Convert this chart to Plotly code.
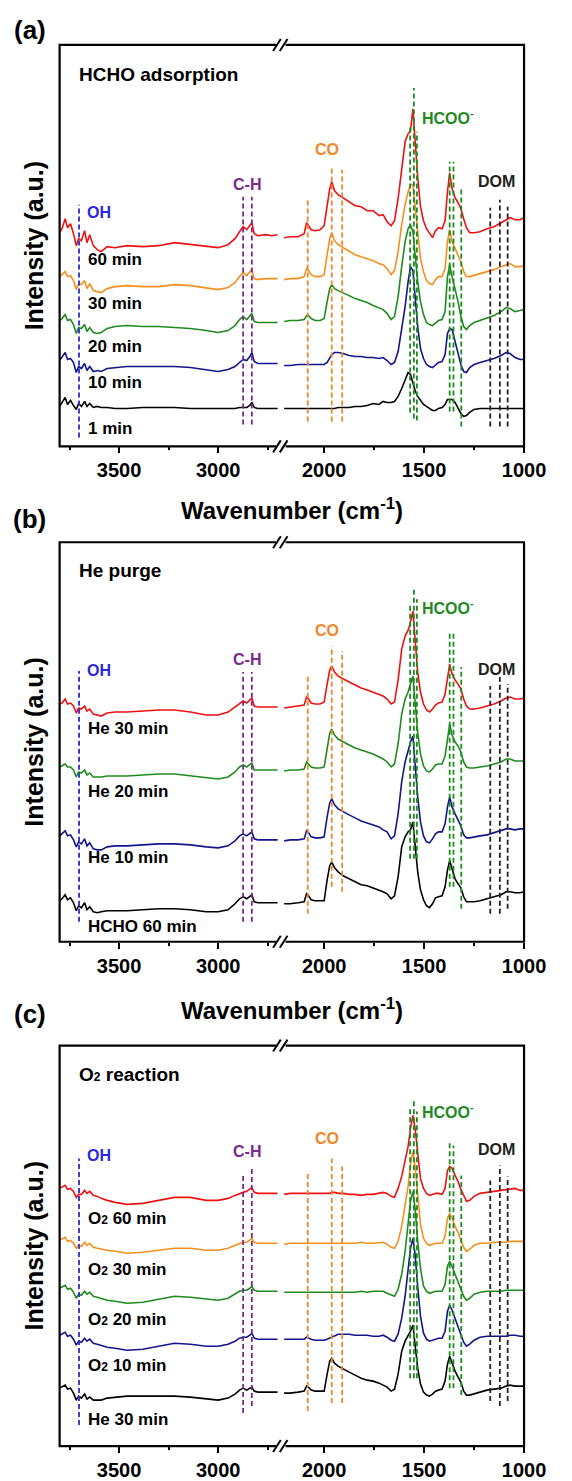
import plotly.graph_objects as go

W, H = 572, 1481

# ---------------- data (intensity in arbitrary units, stacked) ----------------
WN_LEFT = [3800, 3788, 3772, 3760, 3745, 3730, 3716, 3704, 3690, 3674, 3662, 3648, 3630, 3610, 3590, 3560,
           3520, 3460, 3380, 3300, 3220, 3140, 3060, 3000, 2950, 2915, 2892, 2874, 2856, 2840, 2830, 2818,
           2800, 2760, 2730, 2700]
WN_RIGHT = [2200, 2170, 2130, 2100, 2088, 2078, 2065, 2045, 2020, 2000,
            1985, 1972, 1962, 1948, 1930, 1905, 1875, 1845, 1815, 1785,
            1755, 1725, 1705, 1685, 1665, 1648, 1630, 1612, 1595, 1580,
            1568, 1556, 1545, 1532, 1518, 1503, 1488, 1473, 1458, 1443,
            1428, 1410, 1395, 1383, 1372, 1360, 1345, 1330, 1316, 1302,
            1288, 1272, 1250, 1220, 1185, 1150, 1115, 1090, 1070, 1045,
            1020, 1000]

# panel (a) HCHO adsorption
A_LABELS = ["1 min", "10 min", "20 min", "30 min", "60 min"]
A_1_L = [40, 44, 49, 42, 46, 41, 37, 43, 40, 45, 40, 43, 39, 40, 39, 39, 38, 38, 39, 39, 39, 38, 38, 38, 38, 38, 39, 39, 39, 41, 44, 39, 38, 38, 38, 38]
A_10_L = [86, 89, 94, 87, 88, 84, 74, 80, 78, 83, 76, 80, 75, 76, 75, 78, 79, 80, 80, 80, 80, 79, 77, 75, 77, 80, 84, 87, 86, 90, 94, 85, 83, 83, 83, 83]
A_20_L = [126, 128, 132, 126, 127, 122, 113, 119, 118, 122, 115, 119, 114, 113, 114, 118, 120, 121, 120, 120, 119, 118, 116, 114, 116, 121, 127, 130, 127, 131, 133, 125, 124, 124, 124, 124]
A_30_L = [170, 172, 175, 170, 171, 166, 157, 163, 162, 166, 158, 163, 156, 155, 154, 158, 160, 161, 160, 160, 162, 161, 159, 157, 159, 164, 170, 174, 171, 175, 177, 168, 167, 168, 168, 168]
A_60_L = [214, 218, 228, 219, 223, 213, 201, 208, 206, 216, 204, 212, 201, 197, 195, 200, 199, 201, 200, 201, 204, 202, 200, 199, 202, 208, 215, 220, 217, 222, 224, 213, 211, 212, 211, 212]
A_1_R = [38, 38, 38, 38, 38, 38, 38, 38, 38, 38,
         38, 38, 38, 38, 39, 39, 39, 40, 40, 41,
         43, 42, 45, 44, 44, 45, 50, 58, 67, 74,
         72, 64, 56, 50, 46, 42, 40, 38, 36, 36,
         38, 39, 42, 47, 47, 47, 44, 39, 33, 30,
         31, 34, 37, 38, 38, 38, 38, 38, 38, 38,
         38, 38]
A_10_R = [81, 81, 82, 82, 82, 82, 82, 82, 82, 82,
          84, 88, 92, 94, 94, 93, 91, 90, 90, 89,
          89, 88, 89, 86, 82, 84, 95, 118, 140, 165,
          180, 176, 150, 120, 98, 88, 82, 80, 79, 82,
          84, 85, 92, 113, 118, 117, 105, 92, 82, 75,
          74, 79, 82, 84, 86, 88, 91, 94, 93, 89,
          87, 87]
A_20_R = [125, 126, 126, 127, 131, 131, 128, 126, 126, 128,
          145, 158, 162, 158, 156, 154, 151, 148, 146, 144,
          141, 139, 137, 133, 127, 130, 150, 180, 205, 218,
          222, 215, 190, 165, 145, 132, 124, 122, 121, 124,
          126, 127, 135, 170, 182, 170, 158, 145, 130, 120,
          117, 121, 124, 126, 128, 131, 135, 139, 138, 135,
          136, 137]
A_30_R = [167, 168, 168, 170, 178, 176, 172, 170, 170, 172,
          192, 208, 214, 206, 202, 199, 196, 192, 190, 188,
          186, 183, 182, 178, 172, 176, 195, 222, 242, 255,
          262, 262, 240, 215, 188, 175, 166, 163, 162, 167,
          170, 170, 178, 205, 217, 205, 198, 192, 185, 175,
          170, 170, 171, 173, 175, 177, 180, 182, 183, 180,
          180, 181]
A_60_R = [209, 210, 210, 213, 224, 221, 217, 216, 217, 221,
          240, 258, 265, 256, 252, 249, 245, 241, 240, 236,
          236, 231, 232, 225, 221, 226, 248, 280, 305, 313,
          316, 338, 305, 270, 240, 226, 218, 214, 209, 216,
          219, 218, 226, 255, 274, 258, 249, 244, 238, 228,
          219, 214, 214, 215, 218, 220, 224, 227, 229, 227,
          227, 229]

# panel (b) He purge
B_LABELS = ["HCHO 60 min", "He 10 min", "He 20 min", "He 30 min"]
B_H60_L = [41, 43, 47, 42, 44, 39, 31, 36, 34, 39, 32, 35, 30, 29, 30, 31, 31, 31, 32, 33, 33, 32, 30, 30, 32, 38, 43, 45, 43, 46, 47, 40, 39, 39, 39, 39]
B_10_L = [106, 108, 111, 106, 107, 102, 95, 100, 98, 103, 96, 99, 93, 92, 92, 95, 96, 96, 97, 98, 98, 97, 95, 94, 96, 101, 106, 108, 106, 109, 110, 103, 102, 102, 102, 102]
B_20_L = [175, 176, 178, 175, 175, 172, 165, 170, 169, 172, 167, 169, 165, 165, 165, 166, 166, 166, 167, 168, 168, 166, 164, 163, 165, 170, 175, 177, 175, 177, 179, 172, 172, 172, 172, 172]
B_30_L = [238, 239, 243, 238, 239, 236, 229, 234, 233, 236, 231, 233, 228, 227, 226, 229, 230, 230, 231, 232, 232, 230, 227, 227, 230, 235, 239, 241, 239, 242, 244, 236, 235, 235, 235, 235]
B_H60_R = [38, 38, 39, 40, 48, 46, 42, 41, 41, 41,
           62, 76, 80, 74, 70, 66, 63, 60, 57, 56,
           54, 52, 50, 48, 43, 46, 65, 95, 105, 110,
           112, 120, 95, 70, 52, 42, 36, 34, 38, 44,
           45, 46, 55, 72, 81, 72, 63, 58, 54, 45,
           40, 40, 40, 41, 43, 45, 47, 50, 50, 49,
           49, 50]
B_10_R = [101, 102, 102, 103, 111, 109, 105, 104, 104, 105,
          125, 139, 143, 137, 133, 130, 127, 124, 121, 119,
          117, 115, 112, 110, 103, 106, 128, 160, 180, 192,
          200, 206, 175, 145, 120, 106, 100, 99, 103, 108,
          110, 110, 118, 135, 145, 135, 128, 122, 116, 107,
          104, 104, 105, 106, 107, 109, 111, 113, 113, 112,
          113, 113]
B_20_R = [171, 172, 172, 173, 180, 178, 175, 174, 174, 175,
          195, 209, 213, 207, 203, 200, 197, 194, 192, 190,
          188, 185, 183, 180, 175, 178, 198, 228, 243, 250,
          258, 266, 240, 210, 188, 176, 171, 170, 173, 177,
          178, 178, 186, 205, 218, 207, 200, 196, 190, 180,
          175, 174, 174, 175, 176, 178, 180, 183, 183, 181,
          181, 181]
B_30_R = [234, 235, 236, 237, 245, 243, 239, 238, 238, 240,
          258, 272, 276, 270, 266, 263, 260, 257, 254, 252,
          250, 248, 246, 243, 238, 240, 262, 293, 306, 312,
          320, 331, 300, 270, 250, 238, 232, 230, 233, 237,
          239, 240, 248, 265, 278, 268, 262, 258, 253, 243,
          236, 233, 233, 234, 236, 238, 241, 244, 245, 243,
          243, 244]

# panel (c) O2 reaction
C_LABELS = ["He 30 min", "O2 10 min", "O2 20 min", "O2 30 min", "O2 60 min"]
C_He30_L = [58, 59, 61, 57, 58, 53, 46, 50, 48, 52, 47, 49, 46, 46, 46, 48, 49, 50, 50, 50, 50, 49, 47, 46, 48, 52, 56, 58, 56, 58, 59, 55, 54, 54, 54, 54]
C_10_L = [111, 112, 114, 110, 111, 107, 101, 105, 104, 108, 105, 107, 103, 102, 101, 99, 98, 96, 97, 100, 103, 102, 100, 100, 102, 105, 108, 109, 109, 111, 113, 108, 107, 107, 107, 107]
C_20_L = [158, 159, 161, 157, 158, 154, 148, 152, 151, 155, 152, 154, 150, 149, 148, 146, 145, 143, 144, 147, 150, 149, 147, 146, 148, 152, 155, 156, 156, 158, 160, 156, 155, 155, 155, 155]
C_30_L = [206, 207, 209, 205, 206, 203, 198, 201, 200, 204, 201, 203, 199, 198, 197, 196, 195, 193, 194, 196, 198, 198, 196, 196, 198, 201, 203, 204, 204, 206, 208, 204, 203, 203, 203, 203]
C_60_L = [258, 259, 261, 257, 258, 255, 249, 252, 252, 256, 253, 255, 251, 250, 248, 246, 244, 242, 243, 246, 249, 249, 246, 246, 248, 251, 253, 254, 255, 257, 259, 254, 253, 253, 253, 253]
C_He30_R = [53, 53, 54, 55, 60, 59, 56, 55, 55, 55,
            72, 85, 88, 83, 80, 77, 74, 71, 68, 66,
            65, 63, 61, 59, 55, 57, 72, 95, 105, 110,
            115, 121, 100, 78, 62, 54, 51, 50, 52, 55,
            56, 57, 65, 82, 90, 83, 75, 69, 64, 55,
            51, 51, 52, 54, 56, 57, 58, 60, 61, 60,
            60, 60]
C_10_R = [107, 107, 107, 107, 109, 108, 107, 106, 106, 106,
          107, 108, 109, 110, 112, 112, 112, 111, 111, 111,
          110, 110, 111, 109, 106, 105, 112, 128, 150, 175,
          198, 208, 192, 160, 130, 113, 107, 105, 106, 107,
          108, 108, 115, 135, 141, 136, 128, 120, 111, 104,
          100, 102, 106, 109, 110, 110, 110, 110, 111, 111,
          110, 110]
C_20_R = [154, 154, 154, 154, 154, 154, 154, 154, 154, 154,
          154, 154, 154, 154, 154, 154, 154, 154, 155, 154,
          155, 155, 155, 153, 151, 150, 157, 172, 195, 220,
          245, 255, 238, 205, 178, 160, 155, 153, 154, 155,
          155, 155, 162, 180, 185, 180, 172, 165, 157, 150,
          146, 148, 152, 154, 155, 155, 155, 156, 156, 156,
          156, 156]
C_30_R = [202, 203, 203, 203, 203, 203, 203, 203, 203, 203,
          203, 203, 203, 203, 203, 203, 203, 203, 204, 203,
          203, 204, 204, 202, 199, 198, 205, 220, 240, 260,
          282, 295, 280, 250, 222, 208, 203, 201, 202, 203,
          203, 203, 210, 228, 233, 228, 220, 214, 206, 199,
          195, 197, 201, 203, 203, 204, 204, 204, 205, 205,
          205, 205]
C_60_R = [252, 253, 253, 253, 253, 253, 253, 253, 253, 253,
          253, 253, 254, 254, 253, 253, 252, 252, 251, 252,
          252, 253, 254, 253, 250, 249, 258, 270, 285, 300,
          318, 331, 318, 290, 268, 258, 253, 251, 252, 253,
          253, 252, 258, 276, 280, 278, 271, 265, 257, 250,
          245, 246, 250, 253, 254, 255, 256, 256, 257, 258,
          256, 256]

# band assignment positions (cm-1)
OH_WN = [3702]
CH_WN = [2874, 2830]
CO_WN = [2082, 1962, 1910]
HCOO_WN = [1570, 1551, 1536, 1372, 1353, 1314]
DOM_WN = [1169, 1121, 1082]

A_OH_Y = [(9, 242)]
A_CH_Y = [(22, 250), (22, 250)]
A_CO_Y = [(25, 249), (25, 280), (25, 277)]
A_HCOO_Y = [(34, 320), (28, 359), (26, 315), (35, 285), (35, 285), (20, 260)]
A_DOM_Y = [(20, 239), (20, 247), (20, 240)]
B_OH_Y = [(20, 271)]
B_CH_Y = [(20, 270), (20, 270)]
B_CO_Y = [(28, 268), (55, 296), (50, 291)]
B_HCOO_Y = [(83, 338), (83, 355), (83, 343), (55, 311), (55, 311), (33, 275)]
B_DOM_Y = [(28, 256), (28, 265), (33, 258)]
C_OH_Y = [(21, 288)]
C_CH_Y = [(33, 273), (40, 280)]
C_CO_Y = [(35, 275), (43, 288), (43, 280)]
C_HCOO_Y = [(68, 338), (68, 348), (68, 335), (58, 306), (58, 301), (51, 271)]
C_DOM_Y = [(45, 266), (40, 281), (45, 270)]

# ---------------- styling / layout ----------------
FONT = "Liberation Sans, Arial, sans-serif"
BLACK, NAVY, GREEN, ORANGE, RED = "#000000", "#14148c", "#1f8a1f", "#f5901e", "#ee1111"
C_OH, C_CH, C_CO, C_HCOO, C_DOM = "#2a2ad8", "#7b2a8c", "#f0882a", "#1f8a1f", "#222222"

XL, XB, XR = 62, 292, 545          # frame left, break, right (px)
PANELS = [(45, 447), (543, 943), (1047, 1448)]  # (top, bottom) px

fig = go.Figure()
layout = dict(width=W, height=H, margin=dict(l=0, r=0, t=0, b=0), autosize=False,
              paper_bgcolor="white", plot_bgcolor="white", showlegend=False)


def xn(n):
    return "x" if n == 1 else f"x{n}"


def yn(n):
    return "y" if n == 1 else f"y{n}"


def xkey(n):
    return "xaxis" if n == 1 else f"xaxis{n}"


def ykey(n):
    return "yaxis" if n == 1 else f"yaxis{n}"


tick = dict(showgrid=False, zeroline=False, showline=False, ticks="outside", ticklen=6, tickwidth=2,
            tickcolor="black", dtick=500, tick0=0,
            tickfont=dict(family=FONT, size=20, color="black", weight="bold"),
            minor=dict(dtick=250, tick0=0, ticks="outside", ticklen=3, tickwidth=2, tickcolor="black"),
            fixedrange=True)

shapes = []
annotations = []


def py(p):
    return 1 - p / H


for i, (top, bot) in enumerate(PANELS):
    xa, xb, ya = 2 * i + 1, 2 * i + 2, i + 1
    layout[ykey(ya)] = dict(domain=[py(bot), py(top)], range=[0, bot - top], anchor=xn(xa),
                            visible=False, fixedrange=True)
    layout[xkey(xa)] = dict(domain=[XL / W, XB / W], range=[3800, 2684], anchor=yn(ya), **tick)
    layout[xkey(xb)] = dict(domain=[XB / W, XR / W], range=[2217, 1000], anchor=yn(ya), **tick)
    shapes.append(dict(type="rect", xref="paper", yref="paper", x0=XL / W, x1=XR / W,
                       y0=py(bot), y1=py(top), line=dict(color="black", width=2.2), layer="above"))
    for yy in (top, bot):
        shapes.append(dict(type="line", xref="paper", yref="paper", x0=(XB - 5) / W, x1=(XB + 5) / W,
                           y0=py(yy), y1=py(yy), line=dict(color="white", width=4), layer="above"))
        for dx in (-4, 3):
            shapes.append(dict(type="line", xref="paper", yref="paper",
                               x0=(XB + dx - 4) / W, x1=(XB + dx + 4) / W,
                               y0=py(yy + 6), y1=py(yy - 6),
                               line=dict(color="black", width=2), layer="above"))

panel_series = [
    [(A_1_L, A_1_R, BLACK), (A_10_L, A_10_R, NAVY), (A_20_L, A_20_R, GREEN),
     (A_30_L, A_30_R, ORANGE), (A_60_L, A_60_R, RED)],
    [(B_H60_L, B_H60_R, BLACK), (B_10_L, B_10_R, NAVY), (B_20_L, B_20_R, GREEN), (B_30_L, B_30_R, RED)],
    [(C_He30_L, C_He30_R, BLACK), (C_10_L, C_10_R, NAVY), (C_20_L, C_20_R, GREEN),
     (C_30_L, C_30_R, ORANGE), (C_60_L, C_60_R, RED)],
]
panel_marks = [
    (A_OH_Y, A_CH_Y, A_CO_Y, A_HCOO_Y, A_DOM_Y),
    (B_OH_Y, B_CH_Y, B_CO_Y, B_HCOO_Y, B_DOM_Y),
    (C_OH_Y, C_CH_Y, C_CO_Y, C_HCOO_Y, C_DOM_Y),
]

for i, series in enumerate(panel_series):
    xa, xb, ya = xn(2 * i + 1), xn(2 * i + 2), yn(i + 1)
    for left, right, col in series:
        fig.add_trace(go.Scatter(x=WN_LEFT, y=left, mode="lines", line=dict(color=col, width=1.6),
                                 xaxis=xa, yaxis=ya, hoverinfo="skip"))
        fig.add_trace(go.Scatter(x=WN_RIGHT, y=right, mode="lines", line=dict(color=col, width=1.6),
                                 xaxis=xb, yaxis=ya, hoverinfo="skip"))
    oh, ch, co, hc, dom = panel_marks[i]
    groups = [(OH_WN, oh, C_OH, xa), (CH_WN, ch, C_CH, xa), (CO_WN, co, C_CO, xb),
              (HCOO_WN, hc, C_HCOO, xb), (DOM_WN, dom, C_DOM, xb)]
    for wns, ys, col, ax in groups:
        for w, (y0, y1) in zip(wns, ys):
            fig.add_trace(go.Scatter(x=[w, w], y=[y0, y1], mode="lines",
                                     line=dict(color=col, width=1.8, dash="5px,3px"),
                                     xaxis=ax, yaxis=ya, hoverinfo="skip"))


def ann(text, x, y, xr, yr, color="black", size=16, xanchor="center", angle=0):
    annotations.append(dict(text=text, x=x, y=y, xref=xr, yref=yr, showarrow=False, xanchor=xanchor,
                            yanchor="middle", textangle=angle,
                            font=dict(family=FONT, size=size, color=color, weight="bold")))


O2 = "O<span style='font-size:12px'>2</span>"
titles = ["HCHO adsorption", "He purge", O2 + " reaction"]
time_text = [A_LABELS, B_LABELS, [t.replace("O2", O2) for t in C_LABELS]]
time_y = [[18, 64, 100, 143, 187], [15, 84, 150, 214], [27, 81, 127, 177, 228]]
lab_pos = [  # (OH y, C-H y, CO y, HCOO y, DOM y)
    (234, 262, 297, 330, 265),
    (272, 283, 312, 335, 273),
    (291, 295, 308, 335, 297),
]
for i in range(3):
    xa, xb, ya = xn(2 * i + 1), xn(2 * i + 2), yn(i + 1)
    ann(titles[i], 3712, 372, xa, ya, size=19, xanchor="left")
    for t, yy in zip(time_text[i], time_y[i]):
        ann(t, 3666, yy, xa, ya, size=17, xanchor="left")
    yoh, ych, yco, yhc, ydom = lab_pos[i]
    ann("OH", 3603, yoh, xa, ya, color=C_OH, size=16)
    ann("C-H", 2855, ych, xa, ya, color=C_CH, size=16)
    ann("CO", 1985, yco, xb, ya, color=C_CO, size=16)
    ann("HCOO<sup>-</sup>", 1380, yhc, xb, ya, color=C_HCOO, size=16)
    ann("DOM", 1137, ydom, xb, ya, color=C_DOM, size=16)

for lab, yy in zip(["(a)", "(b)", "(c)"], [30, 520, 1015]):
    ann(lab, 31 / W, py(yy), "paper", "paper", size=26)
for (top, bot) in PANELS:
    ann("Intensity (a.u.)", 35 / W, py((top + bot) / 2), "paper", "paper", size=25, angle=-90)
for yy in (510, 1010):
    ann("Wavenumber (cm<sup>-1</sup>)", (XL + XR) / 2 / W, py(yy), "paper", "paper", size=24)

layout["shapes"] = shapes
layout["annotations"] = annotations
fig.update_layout(**layout)
fig.write_html("out.html")
